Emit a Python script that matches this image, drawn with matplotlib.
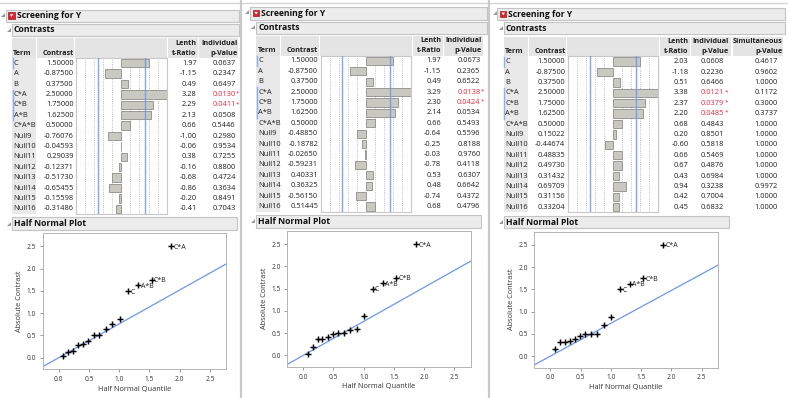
import matplotlib
matplotlib.use("Agg")
import matplotlib.pyplot as plt
from matplotlib.patches import Rectangle, Polygon
from matplotlib.ticker import FormatStrFormatter

W, H = 788, 398
plt.rcParams['font.family'] = ['Open Sans', 'DejaVu Sans']

# table data, one panel per run
terms = ["C", "A", "B", "C*A", "C*B", "A*B", "C*A*B", "Null9", "Null10", "Null11",
         "Null12", "Null13", "Null14", "Null15", "Null16"]
labeled_terms = ["C*A", "C*B", "A*B", "C"]

contrast_1 = [1.5, -0.875, 0.375, 2.5, 1.75, 1.625, 0.5, -0.76076, -0.04593, 0.29039,
              -0.12371, -0.51730, -0.65455, -0.15598, -0.31486]
tratio_1 = [1.97, -1.15, 0.49, 3.28, 2.29, 2.13, 0.66, -1.00, -0.06, 0.38, -0.16, -0.68, -0.86, -0.20, -0.41]
pvalue_1 = [0.0637, 0.2347, 0.6497, 0.0130, 0.0411, 0.0508, 0.5446, 0.2980, 0.9534, 0.7255,
            0.8800, 0.4724, 0.3634, 0.8491, 0.7043]

contrast_2 = [1.5, -0.875, 0.375, 2.5, 1.75, 1.625, 0.5, -0.48850, -0.18782, -0.02650,
              -0.59231, 0.40331, 0.36325, -0.56150, 0.51445]
tratio_2 = [1.97, -1.15, 0.49, 3.29, 2.30, 2.14, 0.66, -0.64, -0.25, -0.03, -0.78, 0.53, 0.48, -0.74, 0.68]
pvalue_2 = [0.0673, 0.2365, 0.6522, 0.0138, 0.0424, 0.0534, 0.5493, 0.5596, 0.8188, 0.9760,
            0.4118, 0.6307, 0.6642, 0.4372, 0.4796]

contrast_3 = [1.5, -0.875, 0.375, 2.5, 1.75, 1.625, 0.5, 0.15022, -0.44674, 0.48835,
              0.49730, 0.31432, 0.69709, 0.31156, 0.33204]
tratio_3 = [2.03, -1.18, 0.51, 3.38, 2.37, 2.20, 0.68, 0.20, -0.60, 0.66, 0.67, 0.43, 0.94, 0.42, 0.45]
pvalue_3 = [0.0608, 0.2236, 0.6466, 0.0121, 0.0379, 0.0485, 0.4843, 0.8501, 0.5818, 0.5469,
            0.4876, 0.6984, 0.3238, 0.7004, 0.6832]
simul_3 = [0.4617, 0.9602, 1.0000, 0.1172, 0.3000, 0.3737, 1.0000, 1.0000, 1.0000, 1.0000,
           1.0000, 1.0000, 0.9972, 1.0000, 1.0000]

# blue reference lines in the contrast bars, and PSE slope of the half normal line
bar_me = [1.29, 1.34, 1.26]
pse = [0.761, 0.765, 0.738]

# half normal quantiles (x of sorted points)
hn_quantile = [0.078, 0.157, 0.237, 0.319, 0.402, 0.489, 0.579, 0.674, 0.776, 0.887,
               1.010, 1.150, 1.318, 1.534, 1.863]

RED = "#e8283c"
BLUE = "#6a98ee"
TXT = "#1e1e1e"
BARFILL = "#c9c9c1"
BAREDGE = "#8e8e87"
FS = 5.4      # table text
FSH = 5.2     # bold column headers
FST = 6.2     # outline titles

fig = plt.figure(figsize=(W / 100, H / 100), dpi=100)
bg = fig.add_axes([0, 0, 1, 1])
bg.set_xlim(0, W)
bg.set_ylim(H, 0)
bg.axis("off")


def px_axes(x0, y0, x1, y1):
    return fig.add_axes([x0 / W, 1 - y1 / H, (x1 - x0) / W, (y1 - y0) / H])


def title_bar(x0, y0, x1, y1, label, tx):
    bg.add_patch(Rectangle((x0, y0), x1 - x0, y1 - y0, facecolor="#ececec", edgecolor="#c4c4c4", lw=0.8))
    bg.text(tx, (y0 + y1) / 2, label, fontsize=FST, fontweight="bold", ha="left", va="center", color="#111111")


def disclosure(x, y):
    bg.add_patch(Polygon([(x, y + 4), (x + 4, y + 4), (x + 4, y)], closed=True,
                         facecolor="#9a9a9a", edgecolor="none"))


def draw_panel(ox, oy, contrast, tratio, pval, me, slope, right, p_right, simul=None):
    # header bars
    disclosure(ox + 1, oy + 12.5)
    title_bar(ox + 5.7, oy + 9.5, ox + right, oy + 22, "Screening for Y", ox + 16.7)
    bg.add_patch(Rectangle((ox + 8.5, oy + 12.3), 6.2, 6.2, facecolor="#d8262e", edgecolor="#a01a20", lw=0.5))
    bg.add_patch(Polygon([(ox + 9.8, oy + 14.2), (ox + 13.4, oy + 14.2), (ox + 11.6, oy + 16.8)],
                         closed=True, facecolor="white", edgecolor="none"))
    disclosure(ox + 7, oy + 27.5)
    title_bar(ox + 12, oy + 24, ox + right, oy + 36, "Contrasts", ox + 14)

    # column header cells
    cols = [(12, 36), (37, 74.5), (75.5, 167.5), (168.3, 198.3), (199.3, 238.3)]
    if simul is not None:
        cols[-1] = (199.3, 239.5)
        cols.append((241, 291.6))
    for c0, c1 in cols:
        bg.add_patch(Rectangle((ox + c0, oy + 38.3), c1 - c0, 19.5, facecolor="#e4e4e4", edgecolor="none"))
    hkw = dict(fontsize=FSH, fontweight="bold", color=TXT, va="center")
    bg.text(ox + 13.3, oy + 53.3, "Term", ha="left", **hkw)
    bg.text(ox + 73.7, oy + 53.3, "Contrast", ha="right", **hkw)
    bg.text(ox + 196.7, oy + 43.3, "Lenth", ha="right", **hkw)
    bg.text(ox + 196.7, oy + 53.3, "t-Ratio", ha="right", **hkw)
    hr = 237.3 if simul is None else 236.6
    bg.text(ox + hr, oy + 43.3, "Individual", ha="right", **hkw)
    bg.text(ox + hr, oy + 53.3, "p-Value", ha="right", **hkw)
    if simul is not None:
        bg.text(ox + 290.6, oy + 43.3, "Simultaneous", ha="right", **hkw)
        bg.text(ox + 290.6, oy + 53.3, "p-Value", ha="right", **hkw)

    # term column shading
    row0, row_h = 63.3, 10.4
    bg.add_patch(Rectangle((ox + 12, oy + 58), 24, 156, facecolor="#e9e9e9", edgecolor="none"))
    tkw = dict(fontsize=FS, color=TXT, va="center")
    for i, term in enumerate(terms):
        ry = oy + row0 + i * row_h
        if term in labeled_terms:
            bg.plot([ox + 12.6, ox + 12.6], [ry - 5, ry + 5], color="#8fb0e8", lw=1.0)
        bg.text(ox + 13.6, ry, term, ha="left", **tkw)
        bg.text(ox + 73.7, ry, f"{contrast[i]:.5f}", ha="right", **tkw)
        bg.text(ox + 196.7, ry, f"{tratio[i]:.2f}", ha="right", **tkw)
        col = RED if pval[i] < 0.05 else TXT
        bg.text(ox + p_right, ry, f"{pval[i]:.4f}", ha="right", fontsize=FS, color=col, va="center")
        if pval[i] < 0.05:
            bg.text(ox + p_right + 0.3, ry - 1.2, "*", ha="left", fontsize=4.6, color=RED, va="center")
        if simul is not None:
            bg.text(ox + 286, ry, f"{simul[i]:.4f}", ha="right", **tkw)

    # contrast bar chart
    ax = px_axes(ox + 76, oy + 58, ox + 166.7, oy + 214)
    for v in [-2, -1.5, -1, -0.5, 0.5, 1, 1.5, 2]:
        ax.axvline(v, color="#a8a8a8", lw=0.6, ls=(0, (1, 1.6)), zorder=1)
    ax.barh(range(len(terms)), contrast, height=0.8, color=BARFILL, edgecolor=BAREDGE, lw=0.6, zorder=2)
    ax.axvline(-me, color=BLUE, lw=1.0, alpha=0.85, zorder=3)
    ax.axvline(me, color=BLUE, lw=1.0, alpha=0.85, zorder=3)
    ax.set_xlim(-2.5, 2.5)
    ax.set_ylim(len(terms) - 0.5, -0.5)
    ax.set_xticks([])
    ax.set_yticks([])
    for s in ax.spines.values():
        s.set_color("#c8c8c8")
        s.set_linewidth(0.8)

    # half normal plot
    disclosure(ox + 7, oy + 221.5)
    title_bar(ox + 12, oy + 217.3, ox + 237, oy + 230, "Half Normal Plot", ox + 14)
    hx = px_axes(ox + 42.7, oy + 233.3, ox + 226, oy + 369.3)
    order = sorted(range(len(terms)), key=lambda i: abs(contrast[i]))
    yv = [abs(contrast[i]) for i in order]
    hx.axline((0, 0), slope=slope, color=BLUE, lw=0.9, zorder=1)
    hx.plot(hn_quantile, yv, "+", color="black", ms=5.0, mew=1.05, zorder=2)
    for k, i in enumerate(order):
        if terms[i] in labeled_terms:
            hx.annotate(terms[i], (hn_quantile[k], yv[k]), xytext=(1.6, -0.8), textcoords="offset points",
                        fontsize=5.0, color=TXT, ha="left", va="center")
    hx.set_xlim(-0.264, 2.765)
    hx.set_ylim(-0.26, 2.795)
    ticks = [0, 0.5, 1.0, 1.5, 2.0, 2.5]
    hx.set_xticks(ticks)
    hx.set_yticks(ticks)
    hx.xaxis.set_major_formatter(FormatStrFormatter("%.1f"))
    hx.yaxis.set_major_formatter(FormatStrFormatter("%.1f"))
    hx.tick_params(length=2.5, width=0.6, color="#8a8a8a", labelsize=4.8, labelcolor="#333333", pad=2.2)
    for s in hx.spines.values():
        s.set_color("#b4b4b4")
        s.set_linewidth(0.7)
    bg.text(ox + 134.3, oy + 389, "Half Normal Quantile", fontsize=5.3, color="#333333", ha="center", va="center")
    bg.text(ox + 20, oy + 301, "Absolute Contrast", fontsize=5.3, color="#333333", ha="center", va="center",
            rotation=90)


draw_panel(0, 0, contrast_1, tratio_1, pvalue_1, bar_me[0], pse[0], 239.5, 235.7)
draw_panel(244.5, -2.3, contrast_2, tratio_2, pvalue_2, bar_me[1], pse[1], 243, 236)
draw_panel(491.7, -1.6, contrast_3, tratio_3, pvalue_3, bar_me[2], pse[2], 293.5, 232.6, simul=simul_3)

# window borders between the three reports
bg.plot([0, W], [2.5, 2.5], color="#d6d6d6", lw=1.0)
for sx in [241.5, 489.5]:
    bg.plot([sx, sx], [0, H], color="#c9c9c9", lw=1.6)

fig.savefig("out.png", dpi=100)
